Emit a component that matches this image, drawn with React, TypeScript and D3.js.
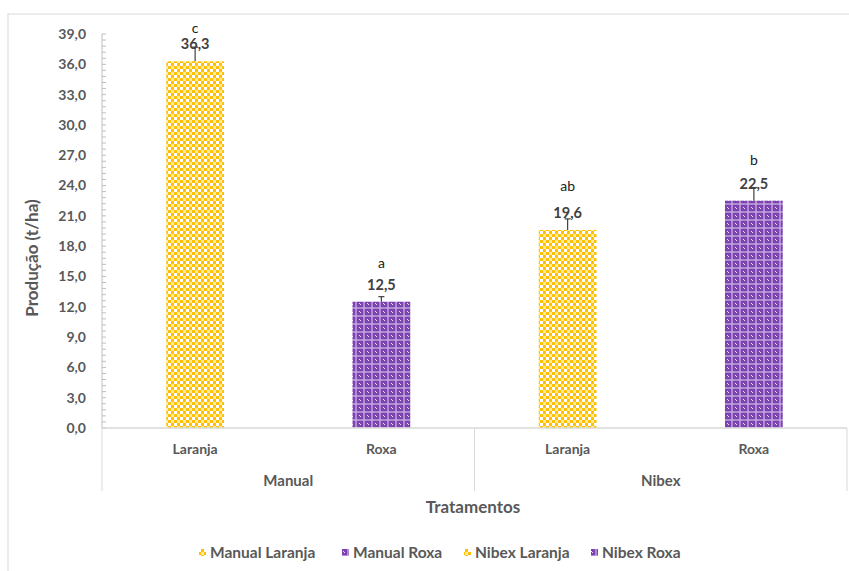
import React from "react";
import * as d3 from "d3";

const groups = ["Manual", "Manual", "Nibex", "Nibex"];
const categories = ["Laranja", "Roxa", "Laranja", "Roxa"];
const values = [36.3, 12.5, 19.6, 22.5];
const errors = [1.4, 0.5, 1.1, 1.3];
const letters = ["c", "a", "ab", "b"];
const letterLevels = [39.6, 16.3, 23.9, 26.5];
const seriesNames = ["Manual Laranja", "Manual Roxa", "Nibex Laranja", "Nibex Roxa"];
const groupNames = ["Manual", "Nibex"];
const yTicks = d3.range(0, 39.001, 3);

const W = 849;
const H = 571;
const M = { left: 102, right: 847, top: 34, bottom: 428 };
const FONT = "Lato, 'Open Sans', sans-serif";

export default function App() {
  const x = d3
    .scaleBand<number>()
    .domain(d3.range(values.length))
    .range([M.left, M.right])
    .paddingInner(0)
    .paddingOuter(0);
  const y = d3.scaleLinear().domain([0, 39]).range([M.bottom, M.top]);
  const bw = x.bandwidth() * 0.31;
  const minor = d3.range(0, 39.001, 0.6);
  const fillFor = (i: number) => (categories[i] === "Laranja" ? "url(#pOr)" : "url(#pPu)");
  const groupX = (g: string) => {
    const idx = groups.map((d, i) => (d === g ? i : -1)).filter((i) => i >= 0);
    return [x(idx[0])!, x(idx[idx.length - 1])! + x.bandwidth()];
  };
  const legendX = [202, 345, 467, 594];

  return (
    <svg
      width={W}
      height={H}
      style={{ position: "absolute", left: 0, top: 0, background: "#fff" }}
      fontFamily={FONT}
    >
      <defs>
        <pattern id="pOr" width={6} height={6} patternUnits="userSpaceOnUse">
          <rect width={6} height={6} fill="#fff" />
          <rect x={0} y={0} width={3} height={3} fill="#FFC000" />
          <rect x={3} y={3} width={3} height={3} fill="#FFC000" />
          <rect x={3} y={0} width={3} height={3} fill="#FFE9A6" />
        </pattern>
        <pattern id="pPu" width={8} height={8} patternUnits="userSpaceOnUse">
          <rect width={8} height={8} fill="#7E43B3" />
          <rect x={3} y={0} width={2} height={8} fill="#AE8AD0" />
          <rect x={0} y={3} width={8} height={2} fill="#AE8AD0" />
          <rect x={0} y={0} width={1} height={1} fill="#EADFF3" />
          <rect x={3.5} y={3.5} width={1} height={1} fill="#fff" />
          <rect x={7} y={7} width={1} height={1} fill="#EADFF3" />
        </pattern>
      </defs>

      {/* chart area border */}
      <rect x={8} y={14} width={W} height={H} fill="none" stroke="#D9D9D9" strokeWidth={1} />

      {/* y axis */}
      <line x1={M.left} x2={M.left} y1={y(39)} y2={y(0)} stroke="#BFBFBF" />
      {minor.map((v, i) => (
        <line key={"m" + i} x1={M.left} x2={M.left + 4} y1={y(v)} y2={y(v)} stroke="#BFBFBF" />
      ))}
      {yTicks.map((t) => (
        <text
          key={"t" + t}
          x={86}
          y={y(t)}
          dy="0.35em"
          textAnchor="end"
          fontSize={14}
          fontWeight="bold"
          fill="#595959"
        >
          {t.toFixed(1).replace(".", ",")}
        </text>
      ))}
      <text
        transform={`translate(38,258) rotate(-90)`}
        textAnchor="middle"
        fontSize={17}
        fontWeight="bold"
        fill="#595959"
      >
        Produção (t/ha)
      </text>

      {/* bars */}
      {values.map((v, i) => {
        const cx = x(i)! + x.bandwidth() / 2;
        return (
          <rect key={"b" + i} x={cx - bw / 2} y={y(v)} width={bw} height={y(0) - y(v)} fill={fillFor(i)} />
        );
      })}

      {/* x axis */}
      <line x1={M.left} x2={M.right} y1={y(0)} y2={y(0)} stroke="#D9D9D9" strokeWidth={1.5} />
      {[M.left, groupX("Manual")[1], M.right].map((xx, i) => (
        <line key={"s" + i} x1={xx} x2={xx} y1={y(0)} y2={491} stroke="#D9D9D9" />
      ))}
      {categories.map((c, i) => (
        <text
          key={"c" + i}
          x={x(i)! + x.bandwidth() / 2}
          y={449}
          dy="0.35em"
          textAnchor="middle"
          fontSize={14}
          fontWeight="bold"
          fill="#595959"
        >
          {c}
        </text>
      ))}
      {groupNames.map((g) => {
        const [a, b] = groupX(g);
        return (
          <text
            key={g}
            x={(a + b) / 2}
            y={481}
            dy="0.35em"
            textAnchor="middle"
            fontSize={15}
            fontWeight="bold"
            fill="#595959"
          >
            {g}
          </text>
        );
      })}
      <text x={473} y={507} dy="0.35em" textAnchor="middle" fontSize={17} fontWeight="bold" fill="#595959">
        Tratamentos
      </text>

      {/* error bars */}
      {values.map((v, i) => {
        const cx = x(i)! + x.bandwidth() / 2;
        return (
          <g key={"e" + i} stroke="#404040" strokeWidth={1.2}>
            <line x1={cx} x2={cx} y1={y(v)} y2={y(v + errors[i])} />
            <line x1={cx - 3} x2={cx + 3} y1={y(v + errors[i])} y2={y(v + errors[i])} />
          </g>
        );
      })}

      {/* value labels */}
      {values.map((v, i) => {
        const cx = x(i)! + x.bandwidth() / 2;
        return (
          <text
            key={"v" + i}
            x={cx}
            y={y(v) - 17}
            dy="0.35em"
            textAnchor="middle"
            fontSize={14.5}
            fontWeight="bold"
            fill="#404040"
          >
            {v.toFixed(1).replace(".", ",")}
          </text>
        );
      })}
      {letters.map((l, i) => (
        <text
          key={"l" + i}
          x={x(i)! + x.bandwidth() / 2}
          y={y(letterLevels[i])}
          dy="0.35em"
          textAnchor="middle"
          fontSize={14}
          fill="#1a1a1a"
        >
          {l}
        </text>
      ))}

      {/* legend */}
      {seriesNames.map((s, i) => (
        <g key={"lg" + i}>
          <rect x={legendX[i] - 3} y={549} width={7} height={7} fill={fillFor(i)} />
          <text x={legendX[i] + 8} y={553} dy="0.35em" fontSize={15.5} fontWeight="bold" fill="#595959">
            {s}
          </text>
        </g>
      ))}
    </svg>
  );
}
